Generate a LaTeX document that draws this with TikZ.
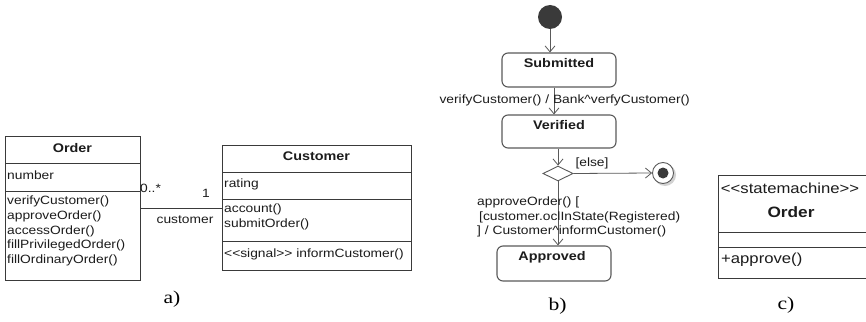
\documentclass[tikz,border=0pt]{standalone}
\usepackage{fontspec}
\usetikzlibrary{arrows.meta,shapes.geometric}
\newfontfamily\umlfont{Liberation Sans}[FakeStretch=1.15]
\newfontfamily\capfont{Liberation Serif}[FakeStretch=1.2]
% guillemet-free stereotype brackets
\newcommand\dblopen{<\kern0pt<}
\newcommand\dblclose{>\kern0pt>}
\definecolor{umlline}{HTML}{3A3A3A}
\definecolor{umltext}{HTML}{1C1C1C}
\definecolor{stateline}{HTML}{5A5A5A}
\tikzset{
  classbox/.style={draw=umlline, line width=0.9pt, inner sep=0pt},
  compart/.style={draw=umlline, line width=0.9pt},
  txt/.style={inner sep=0pt, text=umltext, font=\umlfont\fontsize{12}{14.7}\selectfont},
  boldtxt/.style={inner sep=0pt, text=umltext, font=\umlfont\bfseries\fontsize{12.5}{15}\selectfont},
  bigtxt/.style={inner sep=0pt, text=umltext, font=\umlfont\fontsize{14.5}{17}\selectfont},
  bigbold/.style={inner sep=0pt, text=umltext, font=\umlfont\bfseries\fontsize{15}{18}\selectfont},
  statebox/.style={draw=stateline, line width=1.1pt, rounded corners=6pt, minimum width=114pt, minimum height=34pt, inner sep=0pt},
  trans/.style={draw=stateline, line width=0.8pt, -{Straight Barb[length=6pt,width=10pt]}},
  caption/.style={inner sep=0pt, font=\capfont\fontsize{18}{20}\selectfont},
}
\begin{document}
\begin{tikzpicture}[x=1pt,y=-1pt]
\useasboundingbox (0,0) rectangle (866,321);
\clip (0,0) rectangle (866,321);
\fill[white] (0,0) rectangle (866,321);

% ---- a) class diagram ----
\node[classbox, anchor=north west, minimum width=135pt, minimum height=144pt] (order) at (5,136) {};
\draw[compart] (5,163) -- (140,163);
\draw[compart] (5,191) -- (140,191);
\node[boldtxt] (ordername) at (72.5,148) {Order};
\node[txt, anchor=west] (ordernumber) at (7,175.5) {number};
\node[txt, anchor=north west, align=left] (orderops) at (7,196)
  {verifyCustomer()\\approveOrder()\\accessOrder()\\fillPrivilegedOrder()\\fillOrdinaryOrder()};

\node[classbox, anchor=north west, minimum width=189pt, minimum height=125pt] (customer) at (222,145) {};
\draw[compart] (222,172.7) -- (411,172.7);
\draw[compart] (222,199.3) -- (411,199.3);
\draw[compart] (222,241) -- (411,241);
\node[boldtxt] (customername) at (316.5,156) {Customer};
\node[txt, anchor=west] (customerrating) at (224,184) {rating};
\node[txt, anchor=north west, align=left] (customerops) at (224,203.5) {account()\\submitOrder()};
\node[txt, anchor=west] (customersignal) at (224,254) {\dblopen signal\dblclose{} informCustomer()};

% association
\draw[compart] (order.east) -- (customer.west |- order.east);
\node[txt, anchor=west] (multmany) at (140,188) {0..*};
\node[txt] (multone) at (206,193) {1};
\node[txt] (rolename) at (185,220) {customer};

% ---- b) state machine ----
\node[circle, fill=umlline, minimum size=24pt, inner sep=0pt] (init) at (550,17) {};
\node[statebox] (submitted) at (559,70) {};
\node[boldtxt] (submittedname) at (559,63) {Submitted};
\node[statebox, minimum height=33pt] (verified) at (559,131.5) {};
\node[boldtxt] (verifiedname) at (559,125) {Verified};
\node[diamond, draw=stateline, line width=0.9pt, minimum width=30pt, minimum height=15pt, inner sep=0pt, fill=white] (choice) at (558,173.5) {};
\fill[black!25, opacity=0.7] (665,175) circle (11pt);
\node[circle, draw=stateline, fill=white, line width=0.9pt, minimum size=21pt, inner sep=0pt] (final) at (663,173) {};
\fill[umlline] (final.center) circle (5.5pt);
\node[statebox, minimum height=35pt] (approved) at (554,263.5) {};
\node[boldtxt] (approvedname) at (552,257) {Approved};

\draw[trans] (init.south) -- (init.south |- submitted.north);
\draw[trans] ([xshift=-5pt]submitted.south) -- ([xshift=-5pt]verified.north);
\draw[trans] (choice.north |- verified.south) -- (choice.north);
\draw[trans] (choice.east) -- (final.west);
\draw[trans] (choice.south) -- (choice.south |- approved.north);

\node[txt] (verifylbl) at (564.7,100.5) {verifyCustomer() / Bank\textasciicircum verfyCustomer()};
\node[txt] (elselbl) at (592,163.5) {[else]};
\node[txt, anchor=west, align=left] (guardlbl) at (477,217)
  {approveOrder() [\\\hspace{2pt}[customer.oclInState(Registered)\\] / Customer\textasciicircum informCustomer()};

% ---- c) state machine class ----
\node[classbox, anchor=north west, minimum width=150pt, minimum height=103pt] (smclass) at (718,175) {};
\draw[compart] (718,232) -- (868,232);
\draw[compart] (718,247) -- (868,247);
\node[bigtxt] (smstereo) at (790,188) {\dblopen statemachine\dblclose};
\node[bigbold] (smname) at (791,212) {Order};
\node[bigtxt, anchor=west] (smop) at (721,260) {+approve()};

% captions
\node[caption] (capa) at (172,299) {a)};
\node[caption] (capb) at (557.5,306) {b)};
\node[caption] (capc) at (786,305) {c)};
\end{tikzpicture}
\end{document}
